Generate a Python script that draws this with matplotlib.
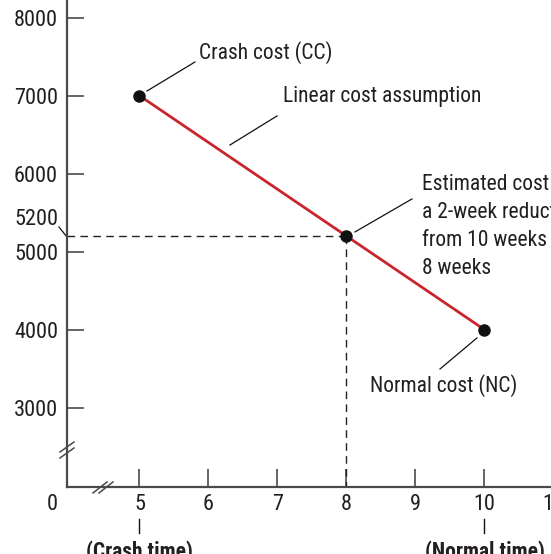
import matplotlib
matplotlib.use("Agg")
import matplotlib.pyplot as plt

plt.rcParams['font.family'] = ['Roboto Condensed', 'DejaVu Sans']

# ---- data ----
times = [5, 8, 10]
costs = [7000, 5200, 4000]
line_times = [5, 10]
line_costs = [7000, 4000]
estimate_time = 8
estimate_cost = 5200
x_ticks = [5, 6, 7, 8, 9, 10, 11]
y_ticks = [3000, 4000, 5000, 6000, 7000, 8000]
crash_label = "Crash cost (CC)"
linear_label = "Linear cost assumption"
estimate_label = "Estimated cost for\na 2-week reduction\nfrom 10 weeks to\n8 weeks"
normal_label = "Normal cost (NC)"
crash_time_label = "(Crash time)"
normal_time_label = "(Normal time)"

W, H = 551, 554
fig = plt.figure(figsize=(W / 100, H / 100), dpi=100)

x0, x1 = 3.945, 11.6
y0, y1 = 1983, 8400
px_x = 69.0
px_y = 0.078
left_px = 66.7
bottom_px = H - 487
ax = fig.add_axes([left_px / W, bottom_px / H,
                   (x1 - x0) * px_x / W, (y1 - y0) * px_y / H])
ax.set_xlim(x0, x1)
ax.set_ylim(y0, y1)

axis_col = '#4a4a4a'
text_col = '#231f20'
red = '#c9252c'
fs = 15.5

for s in ['top', 'right']:
    ax.spines[s].set_visible(False)
for s in ['left', 'bottom']:
    ax.spines[s].set_color(axis_col)
    ax.spines[s].set_linewidth(1.6)

ax.set_xticks(x_ticks)
ax.set_xticklabels([str(t) for t in x_ticks])
ax.set_yticks(y_ticks)
ax.set_yticklabels([str(t) for t in y_ticks])
ax.tick_params(axis='x', direction='in', length=13, width=1.2, color=axis_col,
               pad=5, labelsize=16, labelcolor=text_col)
ax.tick_params(axis='y', direction='in', length=12.5, width=1.2, color=axis_col,
               pad=6.3, labelsize=16, labelcolor=text_col)

# "0" origin label
ax.annotate('0', xy=(3.74, 0), xycoords=ax.get_xaxis_transform(),
            xytext=(0, -5), textcoords='offset points', ha='center', va='top',
            fontsize=16, color=text_col, annotation_clip=False)

# dashed guides
dash = (0, (5.5, 3.8))
ax.plot([x0, estimate_time], [estimate_cost, estimate_cost], color='#222222',
        lw=1.0, linestyle=dash, clip_on=False)
ax.plot([estimate_time, estimate_time], [estimate_cost, y0], color='#222222',
        lw=1.0, linestyle=dash, clip_on=False)

# red line and points
ax.plot(line_times, line_costs, color=red, lw=2.0, solid_capstyle='butt', zorder=3)
ax.plot(times, costs, 'o', color='#111111', ms=8, zorder=4)

lk = dict(color='#111111', lw=0.9, clip_on=False)
tk = dict(fontsize=fs, color=text_col)

# Crash cost
ax.plot([5.109, 5.804], [7060, 7432], **lk)
ax.text(5.862, 7470, crash_label, ha='left', va='baseline', **tk)
# Linear cost assumption
ax.plot([6.312, 6.993], [6368, 6740], **lk)
ax.text(7.080, 6919, linear_label, ha='left', va='baseline', **tk)
# Estimated cost
ax.plot([8.123, 8.949], [5253, 5676], **lk)
ax.text(9.094, 5990, estimate_label, ha='left', va='top', linespacing=1.42,
        clip_on=False, **tk)
# Normal cost
ax.plot([9.355, 9.891], [3496, 3894], **lk)
ax.text(8.341, 3197, normal_label, ha='left', va='baseline', **tk)

# 5200 label
ax.text(3.819, 5342, str(estimate_cost), ha='right', va='baseline', clip_on=False,
        fontsize=16, color=text_col)
ax.plot([3.833, 3.949], [5317, 5188], **lk)

# crash / normal time markers below axis
ax.plot([5, 5], [1573, 1394], color='#111111', lw=1.0, clip_on=False)
ax.plot([10, 10], [1573, 1394], color='#111111', lw=1.0, clip_on=False)
ax.text(5, 1300, crash_time_label, ha='center', va='top', fontweight='bold',
        clip_on=False, **tk)
ax.text(10, 1300, normal_time_label, ha='center', va='top', fontweight='bold',
        clip_on=False, **tk)

# axis breaks
def px2data(px, py):
    return 5 + (px - 139.5) / px_x, 5000 - (py - 251.7) / px_y

for dy in (-3, 3):
    a = px2data(60, 455 + dy)
    b = px2data(74, 445 + dy)
    ax.plot([a[0], b[0]], [a[1], b[1]], color=axis_col, lw=1.1, clip_on=False)
for dx in (-3, 3):
    a = px2data(96 + dx, 493)
    b = px2data(110 + dx, 482)
    ax.plot([a[0], b[0]], [a[1], b[1]], color=axis_col, lw=1.1, clip_on=False)

fig.savefig('out.png', dpi=100)
